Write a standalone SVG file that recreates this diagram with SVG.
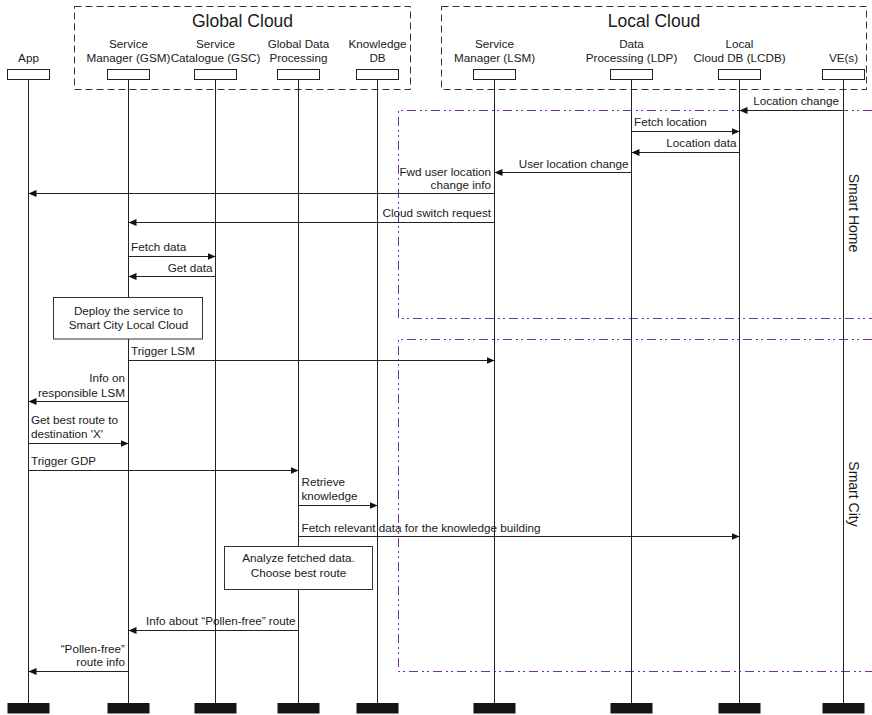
<svg xmlns="http://www.w3.org/2000/svg" width="872" height="715" viewBox="0 0 872 715">
<style>
text{font-family:"Liberation Sans",Arial,sans-serif;font-size:11.7px;fill:#1a1a1a}
.title{font-size:17.5px}
.zl{font-size:14px}
.m{text-anchor:middle}
.e{text-anchor:end}
.cloud{fill:none;stroke:#333;stroke-width:1;stroke-dasharray:7,4}
.zone{fill:none;stroke:#7030A0;stroke-width:1;stroke-dasharray:9,4,2,3,2,4}
.life{stroke:#222;stroke-width:1}
.head{fill:#fff;stroke:#222;stroke-width:1}
.foot{fill:#151515}
.msg{stroke:#222;stroke-width:1;fill:none;marker-end:url(#ah)}
.note{fill:#fff;stroke:#333;stroke-width:1}
</style>
<defs>
<marker id="ah" markerUnits="userSpaceOnUse" markerWidth="9" markerHeight="7" refX="8" refY="3.5" orient="auto">
<path d="M0,0 L8,3.5 L0,7 z" fill="#111"/>
</marker>
</defs>
<rect width="872" height="715" fill="#fff"/>

<g id="zones">
<path class="zone" d="M872,110.5 H398.5 V318.5 H872"/>
<path class="zone" d="M872,339.5 H398.5 V671.5 H872"/>
<text class="zl m" transform="translate(849,213) rotate(90)">Smart Home</text>
<text class="zl m" transform="translate(849,494) rotate(90)">Smart City</text>
</g>

<g id="global-cloud">
<rect class="cloud" x="74.5" y="6.5" width="336" height="83"/>
<text class="title m" x="242.5" y="27">Global Cloud</text>
</g>
<g id="local-cloud">
<rect class="cloud" x="441.5" y="6.5" width="425" height="83"/>
<text class="title m" x="654" y="27">Local Cloud</text>
</g>

<g id="app">
<text class="m" x="28.5" y="62">App</text>
<line class="life" x1="28.5" y1="79" x2="28.5" y2="703"/>
<rect class="head" x="7.5" y="69.5" width="42" height="10"/>
<rect class="foot" x="7.5" y="703" width="42" height="10.5"/>
</g>
<g id="gsm">
<text class="m" x="128.5" y="48">Service</text>
<text class="m" x="128.5" y="62">Manager (GSM)</text>
<line class="life" x1="128.5" y1="79" x2="128.5" y2="703"/>
<rect class="head" x="107.5" y="69.5" width="42" height="10"/>
<rect class="foot" x="107.5" y="703" width="42" height="10.5"/>
</g>
<g id="gsc">
<text class="m" x="215.5" y="48">Service</text>
<text class="m" x="215.5" y="62">Catalogue (GSC)</text>
<line class="life" x1="215.5" y1="79" x2="215.5" y2="703"/>
<rect class="head" x="194.5" y="69.5" width="42" height="10"/>
<rect class="foot" x="194.5" y="703" width="42" height="10.5"/>
</g>
<g id="gdp">
<text class="m" x="298.5" y="48">Global Data</text>
<text class="m" x="298.5" y="62">Processing</text>
<line class="life" x1="298.5" y1="79" x2="298.5" y2="703"/>
<rect class="head" x="277.5" y="69.5" width="42" height="10"/>
<rect class="foot" x="277.5" y="703" width="42" height="10.5"/>
</g>
<g id="kdb">
<text class="m" x="377.5" y="48">Knowledge</text>
<text class="m" x="377.5" y="62">DB</text>
<line class="life" x1="377.5" y1="79" x2="377.5" y2="703"/>
<rect class="head" x="356.5" y="69.5" width="42" height="10"/>
<rect class="foot" x="356.5" y="703" width="42" height="10.5"/>
</g>
<g id="lsm">
<text class="m" x="494.5" y="48">Service</text>
<text class="m" x="494.5" y="62">Manager (LSM)</text>
<line class="life" x1="494.5" y1="79" x2="494.5" y2="703"/>
<rect class="head" x="473.5" y="69.5" width="42" height="10"/>
<rect class="foot" x="473.5" y="703" width="42" height="10.5"/>
</g>
<g id="ldp">
<text class="m" x="631.5" y="48">Data</text>
<text class="m" x="631.5" y="62">Processing (LDP)</text>
<line class="life" x1="631.5" y1="79" x2="631.5" y2="703"/>
<rect class="head" x="610.5" y="69.5" width="42" height="10"/>
<rect class="foot" x="610.5" y="703" width="42" height="10.5"/>
</g>
<g id="lcdb">
<text class="m" x="739.5" y="48">Local</text>
<text class="m" x="739.5" y="62">Cloud DB (LCDB)</text>
<line class="life" x1="739.5" y1="79" x2="739.5" y2="703"/>
<rect class="head" x="718.5" y="69.5" width="42" height="10"/>
<rect class="foot" x="718.5" y="703" width="42" height="10.5"/>
</g>
<g id="ve">
<text class="m" x="843.5" y="62">VE(s)</text>
<line class="life" x1="843.5" y1="79" x2="843.5" y2="703"/>
<rect class="head" x="822.5" y="69.5" width="42" height="10"/>
<rect class="foot" x="822.5" y="703" width="42" height="10.5"/>
</g>

<g id="note-deploy">
<rect class="note" x="53.5" y="297.5" width="149" height="41.5"/>
<text class="m" x="128.5" y="315">Deploy the service to</text>
<text class="m" x="128.5" y="329">Smart City Local Cloud</text>
</g>
<g id="note-analyze">
<rect class="note" x="224.5" y="546.5" width="148" height="43"/>
<text class="m" x="298.5" y="562">Analyze fetched data.</text>
<text class="m" x="298.5" y="577">Choose best route</text>
</g>

<g id="connectors">
<line class="msg" x1="843.5" y1="110.5" x2="739.5" y2="110.5"/>
<text class="e" x="839" y="105">Location change</text>

<line class="msg" x1="631.5" y1="131.5" x2="739.5" y2="131.5"/>
<text x="634" y="126">Fetch location</text>

<line class="msg" x1="739.5" y1="152.5" x2="631.5" y2="152.5"/>
<text class="e" x="736.5" y="147">Location data</text>

<line class="msg" x1="631.5" y1="172.5" x2="494.5" y2="172.5"/>
<text class="e" x="628.5" y="167.5">User location change</text>

<line class="msg" x1="494.5" y1="193.5" x2="28.5" y2="193.5"/>
<text class="e" x="491" y="175.5">Fwd user location</text>
<text class="e" x="491" y="188.5">change info</text>

<line class="msg" x1="494.5" y1="222.5" x2="128.5" y2="222.5"/>
<text class="e" x="491" y="217">Cloud switch request</text>

<line class="msg" x1="128.5" y1="256.5" x2="215.5" y2="256.5"/>
<text x="131" y="251">Fetch data</text>

<line class="msg" x1="215.5" y1="276.5" x2="128.5" y2="276.5"/>
<text class="e" x="212.5" y="271.5">Get data</text>

<line class="msg" x1="128.5" y1="360.5" x2="494.5" y2="360.5"/>
<text x="131" y="355">Trigger LSM</text>

<line class="msg" x1="128.5" y1="401.5" x2="28.5" y2="401.5"/>
<text class="e" x="125" y="382">Info on</text>
<text class="e" x="125" y="396.5">responsible LSM</text>

<line class="msg" x1="28.5" y1="443.5" x2="128.5" y2="443.5"/>
<text x="31" y="424">Get best route to</text>
<text x="31" y="438">destination 'X'</text>

<line class="msg" x1="28.5" y1="470.5" x2="298.5" y2="470.5"/>
<text x="31" y="464.5">Trigger GDP</text>

<line class="msg" x1="298.5" y1="505.5" x2="377.5" y2="505.5"/>
<text x="301.5" y="486">Retrieve</text>
<text x="301.5" y="500">knowledge</text>

<line class="msg" x1="298.5" y1="536.5" x2="739.5" y2="536.5"/>
<text x="301.5" y="531.5">Fetch relevant data for the knowledge building</text>

<line class="msg" x1="298.5" y1="630.5" x2="128.5" y2="630.5"/>
<text class="e" x="295.5" y="625">Info about “Pollen-free” route</text>

<line class="msg" x1="128.5" y1="671.5" x2="28.5" y2="671.5"/>
<text class="e" x="125" y="652.5">“Pollen-free”</text>
<text class="e" x="125" y="666">route info</text>
</g>
</svg>
